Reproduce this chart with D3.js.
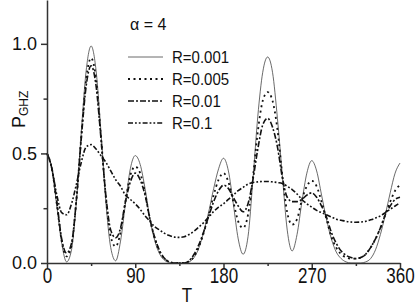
<!DOCTYPE html>
<meta charset="utf-8">
<html lang="en">
<head>
<script src="https://d3js.org/d3.v7.min.js"></script>
<style>
body { margin: 0; background: #fff; }
text { font-family: "Liberation Sans", Arial, sans-serif; fill: #111; }
.axis path, .axis line { stroke: #333; stroke-width: 1.5; }
</style>
</head>
<body>
<script type="text/javascript">

// time axis samples (degrees)
var T = [0,5,10,15,20,25,30,35,40,45,50,55,60,65,70,75,80,85,90,95,100,105,110,115,120,125,130,135,140,145,150,155,160,165,170,175,180,
         185,190,195,200,205,210,215,220,225,230,235,240,245,250,255,260,265,270,275,280,285,290,295,300,305,310,315,320,325,330,335,340,345,350,355,360];

// P_GHZ, one array per R
var r001 = [0.50,0.43,0.26,0.09,0.005,0.06,0.28,0.60,0.88,0.99,0.88,0.60,0.28,0.07,0.01,0.10,0.27,0.43,0.49,0.45,0.34,0.20,0.10,0.04,0.012,0.002,0,0,0,0.005,0.025,0.07,0.145,0.235,0.34,0.43,0.478,
            0.42,0.27,0.11,0.04,0.12,0.38,0.67,0.87,0.94,0.87,0.66,0.40,0.15,0.055,0.13,0.28,0.41,0.467,0.42,0.31,0.20,0.11,0.05,0.02,0.005,0,0,0,0.005,0.02,0.06,0.13,0.22,0.32,0.41,0.456];
var r005 = [0.50,0.43,0.27,0.10,0.03,0.08,0.29,0.58,0.84,0.935,0.84,0.58,0.30,0.12,0.075,0.14,0.28,0.40,0.44,0.41,0.32,0.20,0.11,0.05,0.02,0.005,0,0,0,0.008,0.03,0.075,0.14,0.22,0.31,0.38,0.41,
            0.37,0.28,0.19,0.16,0.22,0.39,0.60,0.74,0.78,0.74,0.61,0.40,0.23,0.175,0.20,0.29,0.35,0.375,0.35,0.28,0.20,0.12,0.07,0.04,0.025,0.02,0.02,0.025,0.04,0.07,0.11,0.16,0.22,0.28,0.33,0.356];
var r01  = [0.50,0.43,0.28,0.11,0.045,0.09,0.29,0.57,0.81,0.90,0.81,0.57,0.31,0.15,0.115,0.16,0.28,0.37,0.41,0.38,0.31,0.20,0.115,0.055,0.02,0.005,0,0,0,0.01,0.04,0.085,0.145,0.215,0.28,0.33,0.355,
            0.34,0.30,0.26,0.234,0.27,0.38,0.52,0.63,0.66,0.62,0.53,0.39,0.30,0.28,0.28,0.29,0.31,0.32,0.30,0.26,0.21,0.14,0.09,0.055,0.035,0.025,0.02,0.025,0.04,0.07,0.11,0.16,0.22,0.26,0.29,0.30];
var r1   = [0.50,0.43,0.31,0.23,0.22,0.27,0.36,0.46,0.53,0.54,0.52,0.49,0.46,0.42,0.38,0.35,0.31,0.29,0.27,0.245,0.215,0.19,0.165,0.15,0.135,0.125,0.118,0.117,0.12,0.13,0.145,0.165,0.185,0.21,0.235,0.255,0.27,
            0.29,0.31,0.33,0.345,0.36,0.367,0.37,0.372,0.372,0.37,0.367,0.363,0.35,0.335,0.315,0.29,0.27,0.255,0.24,0.23,0.22,0.21,0.20,0.195,0.19,0.187,0.186,0.187,0.19,0.197,0.205,0.215,0.23,0.245,0.26,0.275];

var labels = ["R=0.001", "R=0.005", "R=0.01", "R=0.1"];
var xTicks = [0, 90, 180, 270, 360];
var xMinor = [45, 135, 225, 315];
var yTicks = [0, 0.5, 1.0];
var yMinor = [0.25, 0.75];

var width = 415, height = 305;

var svg = d3.select("body").append("svg")
    .attr("width", width)
    .attr("height", height);

var x = d3.scaleLinear().domain([0, 360]).range([47, 400]);
var y = d3.scaleLinear().domain([0, 1.2]).range([263, 0]);

// line styles for each R
var styles = [
  {dash: null, w: 0.8, color: "#444"},
  {dash: "2,3.5", w: 1.8, color: "#111"},
  {dash: "6,2,2,2", w: 1.6, color: "#111"},
  {dash: "5,2,1.8,2,1.8,2", w: 1.6, color: "#111"}
];
var series = [r001, r005, r01, r1];

var line = d3.line()
    .x(function(d) { return x(d[0]); })
    .y(function(d) { return y(d[1]); })
    .curve(d3.curveMonotoneX);

series.forEach(function(s, k) {
  svg.append("path")
    .datum(T.map(function(t, i) { return [t, s[i]]; }))
    .attr("fill", "none")
    .attr("stroke", styles[k].color)
    .attr("stroke-width", styles[k].w)
    .attr("stroke-dasharray", styles[k].dash)
    .attr("d", line);
});

// minor ticks first, then the main axes
svg.append("g").attr("class", "axis")
    .attr("transform", "translate(0,263)")
    .call(d3.axisBottom(x).tickValues(xMinor).tickSize(3).tickFormat(""))
    .select(".domain").remove();
svg.append("g").attr("class", "axis")
    .attr("transform", "translate(47,0)")
    .call(d3.axisLeft(y).tickValues(yMinor).tickSize(3.5).tickFormat(""))
    .select(".domain").remove();

var gx = svg.append("g").attr("class", "axis")
    .attr("transform", "translate(0,263)")
    .call(d3.axisBottom(x).tickValues(xTicks).tickSize(5).tickSizeOuter(0));
gx.selectAll("text")
    .attr("y", 0).attr("dy", 0)
    .attr("transform", "translate(0,20) scale(1,1.25)")
    .style("font-size", "17px");

var gy = svg.append("g").attr("class", "axis")
    .attr("transform", "translate(47,0)")
    .call(d3.axisLeft(y).tickValues(yTicks).tickSize(6).tickSizeOuter(0).tickFormat(d3.format(".1f")));
gy.selectAll("text")
    .attr("x", -10)
    .style("font-size", "18px");

// axis titles
svg.append("text")
    .attr("transform", "translate(187,302) scale(1,1.15)")
    .style("text-anchor", "middle")
    .style("font-size", "17px")
    .text("T");

var yt = svg.append("text")
    .attr("transform", "translate(25,128) rotate(-90)")
    .style("font-size", "18px");
yt.append("tspan").text("P");
yt.append("tspan").attr("dy", 3).style("font-size", "12px").text("GHZ");

svg.append("text")
    .attr("x", 130).attr("y", 30)
    .style("font-size", "16px")
    .text("\u03b1 = 4");

// legend
labels.forEach(function(l, k) {
  var ly = 57 + k * 22;
  svg.append("line")
    .attr("x1", 128).attr("x2", 163)
    .attr("y1", ly).attr("y2", ly)
    .attr("stroke", styles[k].color)
    .attr("stroke-width", styles[k].w)
    .attr("stroke-dasharray", styles[k].dash);
  svg.append("text")
    .attr("transform", "translate(172," + (ly + 6) + ") scale(1,1.1)")
    .style("font-size", "15px")
    .text(l);
});

</script>
</body>
</html>
